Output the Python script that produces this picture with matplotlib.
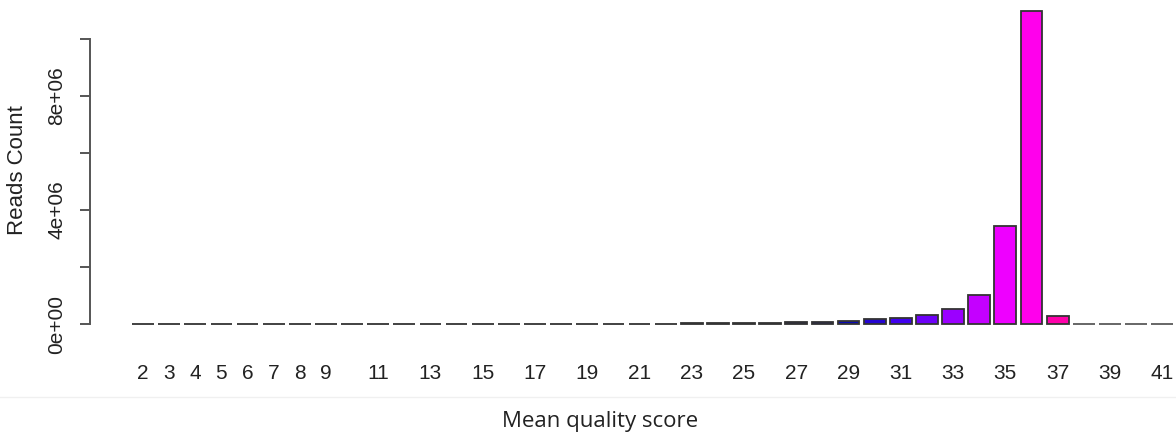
import numpy as np
import matplotlib.pyplot as plt
from matplotlib import font_manager
from matplotlib.colors import LinearSegmentedColormap
from matplotlib.lines import Line2D

# reads per mean quality score
scores = list(range(2, 42))
reads = [1200, 900, 800, 900, 1000, 1100, 1300, 1500, 1800, 2100,
         2500, 3000, 3500, 4200, 5000, 6000, 7200, 8600, 10000, 12000,
         15000, 19000, 25000, 33000, 45000, 60000, 80000, 115000, 160000, 210000,
         330000, 520000, 1020000, 3440000, 10980000, 280000, 0, 0, 0, 0]
shown_labels = [2, 3, 4, 5, 6, 7, 8, 9] + list(range(11, 42, 2))

# colour ramp from score 24 up to 37
ramp = LinearSegmentedColormap.from_list('q', [
    (0 / 13, '#383838'), (3 / 13, '#1a1a60'), (5 / 13, '#0a0ab0'),
    (7 / 13, '#4000f0'), (9 / 13, '#9a00ff'), (11 / 13, '#ee00ff'),
    (12 / 13, '#ff00ee'), (13 / 13, '#ff00aa')])
colors = []
for s in scores:
    if 24 <= s <= 37:
        colors.append(ramp((s - 24) / 13))
    else:
        colors.append('#5a5a5a')

# narrow sans for the tick numbers if available
try:
    font_manager.findfont('Liberation Sans Narrow', fallback_to_default=False)
    tick_font = 'Liberation Sans Narrow'
    tick_size = 16
except ValueError:
    tick_font = 'Liberation Sans'
    tick_size = 15

fig = plt.figure(figsize=(11.76, 4.43), dpi=100)
ax = fig.add_axes([90 / 1176, 1 - 335 / 443, 1 - 90 / 1176, 335 / 443])

x = np.arange(len(scores))
edges = ['#333333' if r > 0 else '#5a5a5a' for r in reads]
ax.bar(x, reads, width=0.833, color=colors, edgecolor=edges, linewidth=1.3)

ax.set_xlim(-2.03, 39.53)
ax.set_ylim(-0.386e6, 11.37e6)

for side in ['top', 'right', 'bottom']:
    ax.spines[side].set_visible(False)
ax.spines['left'].set_bounds(0, 1e7)
ax.spines['left'].set_color('#555555')
ax.spines['left'].set_linewidth(1.4)

ax.set_yticks(np.arange(0, 1.01e7, 2e6))
ax.set_yticklabels(['0e+00', '', '4e+06', '', '8e+06', ''])
ax.tick_params(axis='y', length=7, width=1.4, color='#555555', pad=10,
               labelsize=15, labelcolor='#222222')
for lab in ax.get_yticklabels():
    lab.set_rotation(90)
    lab.set_va('center')
    lab.set_fontfamily('Liberation Sans')

pos = [scores.index(s) for s in shown_labels]
ax.set_xticks(pos)
ax.set_xticklabels([str(s) for s in shown_labels], fontfamily=tick_font)
ax.tick_params(axis='x', length=0, pad=21, labelsize=tick_size, labelcolor='#222222')

fig.text(18 / 1176, 1 - 170 / 443, 'Reads Count', rotation=90, ha='center', va='center',
         fontsize=16, family='Liberation Sans', color='#222222')
fig.text(600 / 1176, 1 - 422 / 443, 'Mean quality score', ha='center', va='center',
         fontsize=16, family='Open Sans', color='#222222')
fig.add_artist(Line2D([0, 1], [1 - 397 / 443] * 2, color='#f0f0f0', linewidth=1))

fig.savefig('out.png', dpi=100)
